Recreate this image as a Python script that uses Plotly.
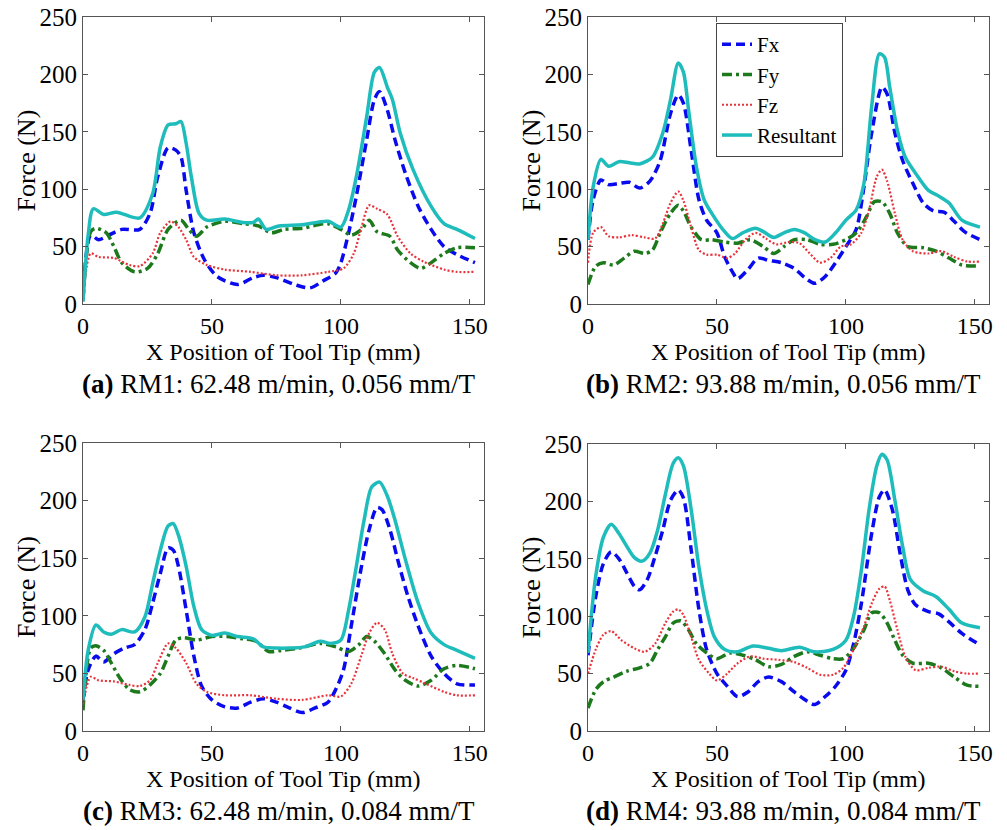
import plotly.graph_objects as go

W, H = 1007, 830

# ---------------- Data ----------------
# Panel (a) RM1
a_res_x = [0, 2, 4, 8, 13, 22, 27, 30, 33, 36, 38, 40, 42, 45, 48, 55, 62, 66, 68, 71, 76, 85, 95, 100, 103, 106, 110, 113, 115, 118, 120, 123, 128, 135, 140, 145, 152]
a_res_y = [2, 60, 83, 78, 80, 75, 96, 137, 156, 157, 159, 140, 111, 79, 73, 74, 71, 71, 74, 65, 68, 69, 72, 67, 82, 111, 163, 202, 206, 189, 178, 149, 117, 85, 70, 65, 57]
a_fx_x = [0, 3, 6, 10, 15, 22, 26, 29, 33, 36, 38, 40, 43, 47, 52, 60, 66, 70, 75, 82, 88, 93, 98, 100, 103, 106, 110, 113, 115, 118, 121, 125, 130, 135, 140, 145, 152]
a_fx_y = [4, 60, 56, 60, 65, 65, 79, 111, 136, 134, 128, 99, 62, 39, 24, 17, 23, 25, 23, 17, 14, 20, 27, 36, 62, 94, 143, 178, 185, 169, 143, 114, 85, 65, 50, 43, 36]
a_fy_x = [0, 3, 5, 9, 12, 15, 20, 25, 29, 33, 38, 41, 44, 48, 55, 62, 68, 73, 78, 85, 95, 100, 104, 108, 111, 114, 119, 122, 127, 131, 135, 140, 145, 152]
a_fy_y = [4, 63, 66, 62, 50, 36, 28, 31, 44, 65, 73, 65, 59, 67, 72, 70, 68, 62, 65, 66, 70, 65, 60, 65, 73, 63, 59, 47, 36, 31, 36, 44, 49, 49]
a_fz_x = [0, 3, 6, 12, 18, 22, 27, 30, 34, 37, 40, 43, 48, 55, 65, 75, 85, 95, 101, 105, 108, 111, 114, 118, 122, 127, 132, 140, 145, 152]
a_fz_y = [4, 44, 41, 40, 34, 33, 44, 62, 72, 67, 56, 41, 34, 30, 28, 25, 25, 28, 31, 44, 67, 86, 83, 78, 59, 44, 37, 30, 28, 28]

# Panel (b) RM2
b_res_x = [0, 2, 5, 8, 12, 16, 20, 25, 29, 32, 35, 37, 39, 42, 45, 48, 53, 56, 60, 65, 68, 72, 76, 80, 84, 88, 92, 96, 100, 104, 107, 110, 113, 115, 117, 120, 123, 127, 132, 136, 140, 145, 152]
b_res_y = [56, 102, 126, 120, 124, 123, 122, 128, 149, 178, 210, 202, 169, 120, 91, 79, 63, 57, 62, 66, 63, 58, 62, 65, 62, 56, 54, 62, 73, 82, 105, 172, 218, 215, 189, 151, 128, 114, 99, 94, 88, 73, 67]
b_fx_x = [0, 2, 5, 8, 12, 16, 20, 24, 28, 32, 35, 37, 40, 43, 46, 50, 53, 56, 58, 62, 66, 70, 75, 80, 84, 88, 92, 96, 100, 104, 107, 110, 114, 116, 119, 122, 126, 130, 134, 138, 142, 146, 152]
b_fx_y = [56, 91, 108, 104, 105, 106, 101, 107, 125, 166, 182, 175, 134, 91, 73, 62, 41, 28, 22, 30, 40, 38, 36, 31, 23, 18, 24, 36, 50, 65, 102, 149, 189, 183, 149, 125, 105, 88, 81, 80, 72, 63, 56]
b_fy_x = [0, 3, 6, 10, 14, 18, 22, 25, 28, 32, 35, 37, 40, 44, 48, 53, 58, 63, 68, 72, 76, 80, 85, 90, 95, 100, 104, 108, 111, 114, 117, 120, 124, 130, 135, 140, 145, 152]
b_fy_y = [17, 33, 36, 34, 40, 46, 44, 47, 62, 79, 86, 81, 67, 56, 56, 54, 53, 56, 50, 44, 50, 56, 56, 52, 52, 56, 62, 76, 89, 89, 79, 62, 50, 49, 46, 40, 34, 33]
b_fz_x = [0, 2, 5, 8, 12, 17, 22, 26, 29, 32, 35, 37, 40, 43, 46, 50, 54, 57, 61, 65, 69, 73, 78, 82, 86, 90, 94, 98, 102, 106, 109, 112, 114, 116, 119, 122, 126, 132, 137, 142, 147, 152]
b_fz_y = [36, 62, 67, 59, 58, 60, 58, 57, 70, 88, 98, 90, 67, 47, 43, 43, 40, 44, 56, 62, 57, 52, 54, 53, 44, 36, 40, 50, 52, 62, 82, 111, 117, 107, 79, 56, 46, 44, 46, 41, 37, 37]

# Panel (c) RM3
c_res_x = [0, 2, 5, 8, 11, 15, 20, 24, 27, 30, 33, 35, 37, 40, 43, 46, 50, 55, 60, 66, 70, 75, 80, 86, 92, 96, 100, 103, 106, 109, 112, 115, 118, 121, 125, 130, 135, 140, 145, 152]
c_res_y = [27, 70, 92, 86, 84, 88, 86, 99, 128, 157, 178, 180, 170, 143, 108, 88, 83, 85, 82, 80, 73, 72, 72, 73, 78, 76, 79, 105, 143, 183, 212, 216, 204, 183, 149, 111, 85, 75, 70, 63]
c_fx_x = [0, 2, 5, 8, 12, 16, 20, 24, 27, 30, 33, 35, 37, 40, 43, 46, 50, 55, 60, 65, 70, 75, 80, 85, 90, 95, 98, 101, 104, 108, 111, 114, 116, 119, 122, 126, 130, 135, 140, 145, 152]
c_fx_y = [27, 53, 65, 60, 67, 72, 75, 88, 111, 137, 159, 157, 143, 105, 65, 39, 27, 21, 20, 25, 28, 25, 20, 16, 20, 25, 36, 53, 91, 143, 175, 194, 192, 175, 149, 117, 91, 65, 50, 41, 40]
c_fy_x = [0, 3, 5, 8, 11, 14, 18, 22, 26, 30, 33, 36, 39, 44, 50, 56, 62, 67, 72, 77, 84, 92, 98, 103, 107, 110, 113, 117, 121, 125, 130, 135, 140, 145, 152]
c_fy_y = [18, 72, 74, 70, 59, 47, 36, 34, 40, 50, 65, 79, 81, 79, 82, 82, 80, 78, 69, 70, 72, 76, 73, 69, 75, 82, 78, 67, 53, 44, 39, 44, 54, 57, 54]
c_fz_x = [0, 3, 6, 12, 18, 22, 26, 29, 33, 36, 40, 44, 48, 55, 65, 75, 85, 95, 100, 104, 108, 111, 114, 117, 120, 124, 128, 133, 140, 145, 152]
c_fz_y = [23, 47, 44, 43, 40, 39, 44, 59, 76, 72, 59, 41, 34, 31, 31, 28, 27, 31, 30, 41, 66, 85, 94, 88, 67, 50, 46, 41, 34, 31, 31]

# Panel (d) RM4
d_res_x = [0, 3, 6, 9, 12, 15, 18, 21, 24, 27, 30, 33, 35, 37, 40, 43, 46, 49, 53, 58, 64, 70, 75, 82, 88, 95, 100, 103, 106, 109, 112, 114, 116, 119, 122, 125, 130, 135, 140, 145, 152]
d_res_y = [68, 135, 169, 180, 172, 161, 151, 148, 155, 175, 206, 233, 238, 231, 193, 143, 106, 82, 71, 69, 74, 72, 70, 73, 69, 71, 79, 100, 140, 193, 231, 241, 236, 201, 161, 132, 122, 117, 106, 94, 90]
d_fx_x = [0, 3, 6, 9, 12, 15, 18, 20, 23, 26, 29, 32, 35, 37, 40, 43, 46, 50, 54, 58, 62, 66, 70, 75, 80, 85, 88, 92, 96, 100, 103, 106, 110, 113, 115, 118, 121, 124, 127, 132, 136, 140, 145, 152]
d_fx_y = [66, 117, 146, 156, 150, 138, 126, 123, 132, 152, 175, 201, 210, 203, 158, 106, 71, 50, 39, 30, 34, 43, 47, 43, 34, 26, 23, 30, 39, 53, 76, 111, 172, 204, 210, 193, 155, 123, 110, 104, 102, 95, 85, 75]
d_fy_x = [0, 3, 6, 10, 15, 20, 24, 27, 30, 33, 36, 39, 42, 46, 50, 55, 60, 65, 70, 75, 80, 85, 90, 95, 99, 103, 107, 110, 113, 116, 119, 122, 126, 132, 137, 142, 147, 152]
d_fy_y = [20, 36, 43, 47, 52, 55, 59, 71, 82, 94, 96, 88, 76, 68, 63, 68, 66, 62, 56, 58, 65, 69, 66, 63, 63, 72, 88, 103, 103, 94, 79, 66, 59, 59, 55, 47, 40, 39]
d_fz_x = [0, 3, 6, 9, 13, 18, 22, 26, 30, 33, 35, 37, 40, 43, 47, 50, 54, 58, 63, 68, 74, 80, 85, 90, 95, 99, 103, 107, 110, 113, 115, 117, 120, 123, 127, 132, 137, 142, 147, 152]
d_fz_y = [50, 71, 84, 87, 79, 72, 69, 76, 94, 104, 106, 101, 82, 62, 50, 44, 50, 59, 65, 63, 62, 60, 55, 49, 49, 55, 71, 91, 111, 124, 126, 114, 88, 65, 53, 55, 56, 52, 50, 50]

series_names = ["Fx", "Fy", "Fz", "Resultant"]
panel_captions = [
    "<b>(a)</b> RM1: 62.48 m/min, 0.056 mm/T",
    "<b>(b)</b> RM2: 93.88 m/min, 0.056 mm/T",
    "<b>(c)</b> RM3: 62.48 m/min, 0.084 mm/T",
    "<b>(d)</b> RM4: 93.88 m/min, 0.084 mm/T",
]
x_ticks = [0, 50, 100, 150]
y_ticks = [0, 50, 100, 150, 200, 250]
x_title = "X Position of Tool Tip (mm)"
y_title = "Force (N)"

panels = [
    [(a_fx_x, a_fx_y), (a_fy_x, a_fy_y), (a_fz_x, a_fz_y), (a_res_x, a_res_y)],
    [(b_fx_x, b_fx_y), (b_fy_x, b_fy_y), (b_fz_x, b_fz_y), (b_res_x, b_res_y)],
    [(c_fx_x, c_fx_y), (c_fy_x, c_fy_y), (c_fz_x, c_fz_y), (c_res_x, c_res_y)],
    [(d_fx_x, d_fx_y), (d_fy_x, d_fy_y), (d_fz_x, d_fz_y), (d_res_x, d_res_y)],
]

# ---------------- Styles ----------------
styles = [
    dict(color="#0a0aee", width=3.5, dash="9px,5px"),
    dict(color="#1c7a1c", width=3.5, dash="10px,4px,3px,4px"),
    dict(color="#e8333a", width=2.2, dash="2px,2px"),
    dict(color="#1fbcbc", width=3.5, dash="solid"),
]

FONT = "Liberation Serif, Times New Roman, serif"

# plot area boxes in pixels: (left, right, top, bottom)
boxes = [
    (83, 484, 17, 304),
    (588, 989, 17, 304),
    (83, 484, 443, 731),
    (588, 989, 444, 731),
]

def px_x(p):
    return p / W

def px_y(p):
    return 1 - p / H

fig = go.Figure()
layout = dict(
    width=W, height=H,
    margin=dict(l=0, r=0, t=0, b=0, autoexpand=False),
    paper_bgcolor="white", plot_bgcolor="white",
    font=dict(family=FONT, size=22, color="black"),
    showlegend=True,
    legend=dict(
        x=px_x(716), y=px_y(23), xanchor="left", yanchor="top",
        bgcolor="white", bordercolor="#444", borderwidth=1,
        font=dict(family=FONT, size=21, color="black"),
        tracegroupgap=0, itemwidth=30,
    ),
)
annotations = []

for i, (box, data) in enumerate(zip(boxes, panels)):
    l, r, t, b = box
    xa = "xaxis" if i == 0 else f"xaxis{i+1}"
    ya = "yaxis" if i == 0 else f"yaxis{i+1}"
    xr = "x" if i == 0 else f"x{i+1}"
    yr = "y" if i == 0 else f"y{i+1}"
    axis_common = dict(
        showline=True, linecolor="#555", linewidth=1, mirror="ticks",
        ticks="inside", ticklen=5, tickcolor="#555", showgrid=False, zeroline=False,
        automargin=False,
    )
    layout[xa] = dict(domain=[px_x(l), px_x(r)], range=[0, 155.5], anchor=yr,
                      tickvals=x_ticks, tickfont=dict(family=FONT, size=24, color="black"),
                      **axis_common)
    layout[ya] = dict(domain=[px_y(b), px_y(t)], range=[0, 250], anchor=xr,
                      tickvals=y_ticks, tickfont=dict(family=FONT, size=25, color="black"),
                      **axis_common)
    for j, ((xs, ys), st) in enumerate(zip(data, styles)):
        fig.add_trace(go.Scatter(
            x=xs, y=ys, mode="lines", name=series_names[j],
            line=dict(color=st["color"], width=st["width"], dash=st["dash"], shape="spline", smoothing=0.8),
            xaxis=xr, yaxis=yr, showlegend=(i == 1), hoverinfo="skip",
        ))
    cx = (l + r) / 2
    annotations.append(dict(text=x_title, x=px_x(cx), y=px_y(b + 48), xref="paper", yref="paper",
                            showarrow=False, font=dict(family=FONT, size=24, color="black"),
                            xanchor="center", yanchor="middle"))
    annotations.append(dict(text=y_title, x=px_x(l - 57), y=px_y((t + b) / 2), xref="paper", yref="paper",
                            showarrow=False, textangle=-90, font=dict(family=FONT, size=26, color="black"),
                            xanchor="center", yanchor="middle"))
    annotations.append(dict(text=panel_captions[i], x=px_x(cx - 5), y=px_y(b + 80), xref="paper", yref="paper",
                            showarrow=False, font=dict(family=FONT, size=27, color="black"),
                            xanchor="center", yanchor="middle"))

layout["annotations"] = annotations
fig.update_layout(**layout)
fig.write_html("out.html")
